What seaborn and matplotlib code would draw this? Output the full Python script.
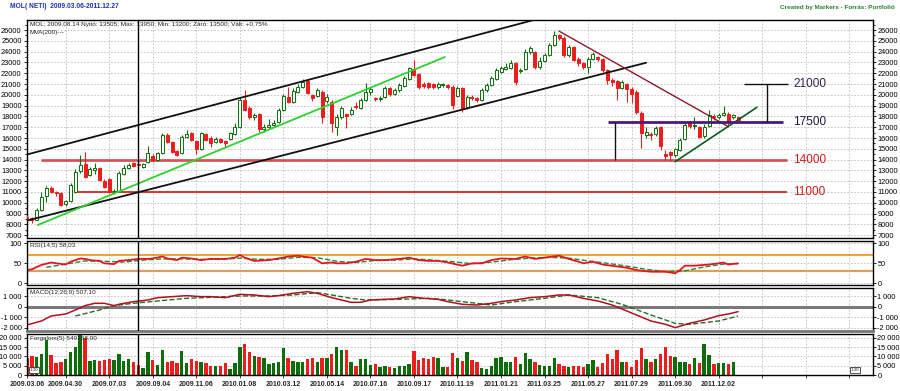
import numpy as np
import pandas as pd
import seaborn as sns
import matplotlib.pyplot as plt
from matplotlib.ticker import MultipleLocator

# weekly candles, 2009.03.06 - 2011.12.27 (week index 0..147)
opens = [8700, 8600, 8450, 9300, 10600, 11400, 11000, 10900, 9900, 10200,
         11000, 12900, 13600, 12600, 13000, 13200, 12000, 12200, 11000, 11100,
         12700, 13200, 13700, 13505, 13300, 13800, 14300, 14000, 14600, 16300,
         15600, 14800, 14600, 16100, 16500, 15700, 15000, 16400, 16000, 15600,
         15900, 15700, 15900, 16400, 17000, 19500, 18800, 17900, 18200, 16800,
         17000, 17200, 17500, 18600, 19800, 19300, 20300, 20700, 21300, 20000,
         19900, 20300, 19400, 19300, 17050, 17900, 18200, 18200, 18950, 18800,
         19500, 20300, 19700, 19600, 19800, 20600, 20100, 20400, 20800, 21500,
         22400, 21900, 21000, 21100, 21000, 20700, 20900, 20900, 20700, 19900,
         20600, 18900, 19800, 19700, 19500, 20400, 20900, 21500, 22100, 22400,
         22500, 22900, 22200, 22400, 24000, 24000, 22600, 23100, 23700, 24600,
         25500, 25300, 23700, 24400, 23300, 22900, 22600, 23300, 23500, 23300,
         22300, 21400, 21300, 20600, 21000, 20500, 20300, 18300, 16300, 16400,
         16400, 17000, 14500, 14700, 14400, 14900, 15900, 17500, 17150, 17000,
         16200, 17100, 18000, 17950, 18100, 18200, 17900, 17900]
highs = [8900, 8700, 9500, 11000, 11600, 11600, 11100, 11000, 10300, 11800,
         13100, 14430, 14730, 13300, 13700, 13300, 12200, 12300, 11300, 12900,
         13500, 13700, 13800, 13950, 13700, 15300, 14500, 14700, 16500, 16500,
         15700, 14900, 16300, 16700, 16600, 15800, 16600, 16500, 16200, 16100,
         16000, 15800, 16600, 17400, 19700, 20440, 19000, 18300, 18300, 17300,
         17800, 17700, 18800, 20100, 20750, 20600, 21000, 21500, 21500, 20100,
         20600, 20400, 20100, 19500, 18200, 19000, 18300, 18900, 19300, 19700,
         21090, 20700, 19800, 19900, 20800, 20700, 20600, 21100, 21700, 22600,
         23220, 22000, 21200, 21200, 21100, 21200, 21100, 21000, 20900, 20800,
         20700, 20000, 20000, 19800, 20600, 21100, 21700, 22500, 22700, 22900,
         23200, 23000, 22500, 24200, 24500, 24100, 23500, 23900, 24800, 25900,
         25600, 25400, 24600, 24500, 23500, 23000, 23500, 24000, 23600, 23400,
         22400, 21600, 21400, 21400, 21100, 20700, 20400, 18500, 17000, 16600,
         17100, 17100, 14900, 14800, 15100, 16000, 17400, 17600, 17900, 17100,
         17300, 18600, 18200, 18300, 19000, 18400, 18200, 17900]
lows = [8300, 8100, 8400, 9200, 10050, 10900, 10600, 9700, 9700, 10100,
        10880, 12800, 12300, 12500, 12700, 12000, 11400, 10900, 10800, 11000,
        12600, 13100, 13300, 13200, 13200, 13700, 13800, 13900, 14500, 15500,
        14600, 14300, 14500, 16000, 15700, 14500, 14900, 15700, 15200, 15500,
        15500, 15200, 15800, 16300, 16900, 18500, 17800, 17700, 16600, 16600,
        16900, 17000, 17400, 18500, 19200, 19200, 20200, 20600, 20100, 19400,
        19800, 17400, 19200, 16600, 16300, 17800, 16900, 18100, 18700, 18700,
        19400, 20000, 19400, 19400, 19700, 19900, 20000, 20300, 20700, 21400,
        21700, 20500, 20600, 20500, 20500, 20500, 20700, 20500, 18700, 19800,
        18400, 18700, 19500, 19300, 19400, 20300, 20800, 21400, 22000, 22300,
        22400, 20900, 22000, 22300, 23800, 22400, 22400, 23000, 23600, 24500,
        25100, 23500, 23500, 23100, 22700, 22400, 22000, 23200, 23100, 22100,
        21000, 20800, 19500, 20500, 19300, 19200, 18200, 15050, 16000, 15800,
        16200, 14900, 13960, 13900, 14200, 14800, 15800, 16900, 16800, 16000,
        16000, 17000, 17700, 17800, 18000, 17200, 17800, 17600]
closes = [8600, 8450, 9330, 10570, 11340, 11030, 10900, 9800, 10150, 11650,
          12880, 13500, 12420, 13100, 13200, 12110, 11490, 11030, 11100, 12730,
          13200, 13500, 13400, 13500, 13550, 14580, 13960, 14580, 16280, 15660,
          14730, 14420, 16120, 16400, 15850, 14950, 16430, 15800, 15500, 15900,
          15600, 15500, 16430, 17050, 19520, 18590, 17975, 18100, 16800, 17000,
          17200, 17400, 18590, 19890, 19300, 20380, 20700, 21220, 20200, 19700,
          20400, 17975, 19800, 17360, 17975, 18750, 18000, 18600, 18900, 19520,
          20290, 20500, 19600, 19700, 20600, 20050, 20450, 20900, 21530, 22450,
          21840, 20750, 20800, 20700, 20700, 21000, 20900, 20700, 19050, 20600,
          18750, 19830, 19700, 19500, 20440, 20900, 21530, 22300, 22450, 22600,
          22900, 21220, 22300, 23990, 24300, 22600, 23100, 23700, 24610, 25540,
          25300, 23690, 24400, 23220, 22900, 22600, 23350, 23800, 23300, 22300,
          21370, 21200, 20600, 21200, 20500, 20100, 18440, 16430, 16600, 16300,
          16900, 15260, 14300, 14430, 14950, 15800, 17200, 17100, 17250, 16120,
          17050, 18130, 17900, 18100, 18300, 17500, 18100, 17700]
volumes = [9000, 10215, 9500, 11100, 18800, 10750, 6660, 7200, 8450, 12400,
           15200, 21400, 19700, 7700, 8070, 7700, 8070, 8450, 8070, 11300,
           7530, 8450, 7200, 5400, 3600, 12550, 8070, 5400, 13440, 7200,
           7700, 6270, 13080, 6270, 8780, 7700, 7200, 6270, 4840, 4840,
           4840, 6660, 3050, 6660, 15200, 16700, 12550, 10215, 9500, 8960,
           5900, 6270, 6800, 14300, 8960, 7530, 7170, 7170, 8600, 9320,
           7170, 9320, 9320, 11290, 14870, 13440, 13440, 7170, 4840, 8420,
           8420, 5380, 5740, 4120, 4840, 4120, 3580, 5000, 5000, 5740,
           12900, 8060, 9320, 8600, 9860, 9320, 4120, 4120, 11650, 9320,
           7530, 12190, 8060, 7170, 3580, 3230, 5000, 8960, 9500, 6810,
           7170, 9500, 5740, 11650, 8420, 7170, 5380, 5000, 4840, 8960,
           5900, 5000, 4480, 5000, 4840, 4120, 5740, 8060, 4120, 6270,
           11110, 8420, 13440, 6810, 6810, 4480, 8240, 14690, 8420, 6810,
           8420, 11110, 14870, 10220, 9860, 7170, 7170, 5740, 9320, 6630,
           16480, 10750, 6090, 6270, 6450, 5740, 6810, 0]

# RSI(14;5) and its signal
rsi_weeks = [0, 1, 3, 5, 6, 8, 9, 11, 12, 13, 15, 16, 18, 19, 21, 23, 25, 26, 28, 29,
             31, 32, 34, 36, 38, 41, 43, 44, 45, 47, 50, 52, 54, 56, 57, 59, 61, 63, 64, 66,
             68, 70, 72, 74, 77, 79, 81, 83, 85, 87, 90, 92, 94, 96, 98, 101, 103, 105, 107, 110,
             112, 114, 115, 117, 119, 122, 124, 126, 129, 132, 134, 135, 136, 138, 141, 143, 144, 145, 147]
rsi_vals = [33, 35, 46, 52, 50, 47, 54, 62, 61, 58, 56, 50, 48, 56, 58, 61, 61, 62, 67, 62,
            58, 64, 62, 58, 61, 61, 64, 71, 64, 56, 58, 62, 67, 69, 67, 64, 50, 52, 50, 50,
            54, 61, 58, 58, 61, 64, 58, 56, 56, 52, 44, 50, 50, 58, 62, 61, 67, 61, 64, 69,
            61, 54, 50, 54, 47, 42, 39, 33, 29, 29, 25, 33, 44, 44, 47, 50, 52, 47, 50]
rsi_sig_weeks = [4, 8, 12, 16, 20, 24, 28, 32, 36, 40, 44, 48, 52, 56, 60, 64, 68, 72, 76, 80,
                 84, 88, 92, 96, 100, 104, 108, 112, 116, 120, 124, 128, 132, 136, 140, 144, 147]
rsi_sig_vals = [40, 48, 56, 55, 53, 58, 61, 61, 60, 60, 63, 60, 60, 65, 64, 55, 52, 57, 58, 61,
                58, 54, 49, 53, 59, 63, 65, 63, 56, 50, 43, 35, 29, 31, 41, 48, 49]

# MACD(12;26;9) and its signal
macd_weeks = [0, 3, 5, 8, 10, 12, 14, 16, 18, 19, 22, 25, 27, 30, 33, 36, 38, 41, 44, 47,
              50, 52, 55, 58, 60, 63, 65, 67, 69, 71, 74, 76, 79, 82, 85, 87, 90, 93, 96, 98,
              101, 104, 107, 110, 112, 115, 118, 121, 123, 126, 129, 132, 134, 137, 140, 143, 145, 147]
macd_vals = [-1726, -1349, -877, -689, -311, 99, 318, 318, 99, 224, 475, 632, 852, 947, 1041, 947, 947, 852, 1167, 1104,
             947, 1041, 1261, 1418, 1261, 852, 632, 412, 412, 632, 695, 726, 947, 789, 695, 475, 224, 160, 318, 475,
             632, 852, 947, 1104, 1104, 789, 538, 160, -217, -783, -1349, -1663, -1978, -1569, -1255, -846, -689, -469]
macd_sig_weeks = [10, 15, 18, 22, 27, 33, 38, 44, 50, 55, 60, 63, 67, 70, 77, 83, 87, 90, 96, 101,
                  107, 112, 118, 123, 129, 134, 137, 143, 147]
macd_sig_vals = [-877, -311, 99, 318, 538, 789, 884, 1010, 1010, 1104, 1324, 1104, 789, 632, 695, 789, 632, 475, 160, 475,
                 789, 1104, 852, 224, -783, -1569, -1663, -1349, -877]

# date axis
date_weeks = [0, 8, 17, 26, 35, 44, 53, 62, 71, 80, 89, 98, 107, 116, 125, 134, 143]
date_labels = ['2009.03.06', '2009.04.30', '2009.07.03', '2009.09.04', '2009.11.06', '2010.01.08',
               '2010.03.12', '2010.05.14', '2010.07.16', '2010.09.17', '2010.11.19', '2011.01.21',
               '2011.03.25', '2011.05.27', '2011.07.29', '2011.09.30', '2011.12.02']
grid_weeks = date_weeks + [152, 161, 170]
cursor_week = 23

# drawn trend lines (week, price)
upper_channel = ([0, 110], [14470, 27550])
lower_channel = ([0, 128], [8350, 22970])
green_trend = ([2.2, 86.4], [7940, 23500])
down_trend = ([110, 145], [25900, 17050])
rise_trend = ([134, 150.9], [13810, 18840])
levels = [11000, 14000, 17500, 21000]

RED = '#ee1c1c'
GREEN = '#0b6e0b'

sns.set_style('white')
plt.rcParams['font.family'] = ['Liberation Sans', 'DejaVu Sans']

fig = plt.figure(figsize=(9, 3.91), dpi=100)
L, W = 26.5 / 900, 846 / 900
ax = fig.add_axes([L, 0.3913, W, 0.5575])
ax_rsi = fig.add_axes([L, 0.2711, W, 0.1125])
ax_macd = fig.add_axes([L, 0.1535, W, 0.1092])
ax_vol = fig.add_axes([L, 0.0409, W, 0.1041])
axes = [ax, ax_rsi, ax_macd, ax_vol]

o = np.array(opens); h = np.array(highs); lo = np.array(lows); c = np.array(closes)
weeks = np.arange(len(c))
up = c >= o
edge = np.where(up, GREEN, RED)
face = np.where(up, 'white', RED)

# candles
ax.vlines(weeks, lo, h, colors=edge, lw=0.8, zorder=3)
ax.bar(weeks, np.maximum(np.abs(c - o), 60), bottom=np.minimum(o, c), width=0.62,
       color=face, edgecolor=edge, linewidth=0.7, zorder=4)

# trend lines and levels
ax.plot(*upper_channel, color='#111111', lw=1.3, zorder=5)
ax.plot(*lower_channel, color='#111111', lw=1.3, zorder=5)
ax.plot(*green_trend, color='#2fd12f', lw=1.3, zorder=5)
ax.plot(*down_trend, color='#8b1a2a', lw=1.0, zorder=5)
ax.plot(*rise_trend, color='#0d5a1d', lw=1.2, zorder=5)
ax.hlines(levels[0], 9.8, 157.1, color='#d02828', lw=1.3, zorder=2)
ax.hlines(levels[1], 2.8, 157.1, color='#d03a3a', lw=2.0, alpha=0.85, zorder=2)
ax.hlines(levels[2], 120.2, 156.4, color='#4a1a7a', lw=2.0, zorder=5)
ax.vlines(121.6, levels[1], levels[2], color='#111111', lw=1.0, zorder=5)
ax.vlines(152.9, levels[2], levels[3], color='#111111', lw=1.0, zorder=5)
ax.hlines(levels[3], 148.3, 157.3, color='#111111', lw=1.0, zorder=5)
label_colors = ['#cc1a1a', '#cc1a1a', '#1a1a40', '#3a1f50']
for lv, col in zip(levels, label_colors):
    ax.text(158.4, lv, str(lv), color=col, fontsize=8.5, va='center', ha='left')

ax.text(0.004, 0.99, 'MOL; 2009.08.14 Nyitó: 13505; Max: 13950; Min: 13200; Záró: 13500; Vált: +0,75%',
        transform=ax.transAxes, va='top', fontsize=4.6, color='#222222')
ax.text(0.004, 0.955, 'MVA(200)---', transform=ax.transAxes, va='top', fontsize=4.6, color='#222222')

# RSI
ax_rsi.axhline(70, color='#e88a00', lw=1.1)
ax_rsi.axhline(30, color='#d8a060', lw=1.6)
sns.lineplot(x=rsi_sig_weeks, y=rsi_sig_vals, ax=ax_rsi, color='#1f8a3a', lw=1.0, linestyle='--')
sns.lineplot(x=rsi_weeks, y=rsi_vals, ax=ax_rsi, color='#e8141c', lw=1.3)
ax_rsi.text(0.004, 0.96, 'RSI(14;5) 58,03', transform=ax_rsi.transAxes, va='top', fontsize=4.6)

# MACD
ax_macd.axhline(0, color='#7a7a7a', lw=2.2)
sns.lineplot(x=macd_sig_weeks, y=macd_sig_vals, ax=ax_macd, color='#2a6a2a', lw=1.0, linestyle='--')
sns.lineplot(x=macd_weeks, y=macd_vals, ax=ax_macd, color='#b01020', lw=1.1)
ax_macd.text(0.004, 0.96, 'MACD(12;26;9) 507,10', transform=ax_macd.transAxes, va='top', fontsize=4.6)

# volume
vol_df = pd.DataFrame({'week': weeks, 'volume': volumes, 'dir': np.where(up, 'up', 'down')})
sns.barplot(data=vol_df, x='week', y='volume', hue='dir', palette={'up': GREEN, 'down': RED},
            native_scale=True, dodge=False, width=0.7, errorbar=None, legend=False,
            saturation=1, linewidth=0, ax=ax_vol)
ax_vol.text(0.004, 0.97, 'Forgalom(5) 549168,00', transform=ax_vol.transAxes, va='top', fontsize=4.6)
ax_vol.text(0.004, 0.1, '1:30', transform=ax_vol.transAxes, fontsize=3.2,
            bbox=dict(boxstyle='square,pad=0.15', fc='white', ec='#333333', lw=0.6))
ax_vol.text(0.984, 0.1, '1:30', transform=ax_vol.transAxes, fontsize=3.2, ha='right',
            bbox=dict(boxstyle='square,pad=0.15', fc='white', ec='#333333', lw=0.6))

# axes styling
ax.set_ylim(6740, 26926)
ax.set_yticks(range(7000, 26001, 1000))
ax.yaxis.set_minor_locator(MultipleLocator(500))
ax_rsi.set_ylim(-4.25, 105.75)
ax_rsi.set_yticks([0, 50, 100])
ax_macd.set_ylim(-2292, 1736)
ax_macd.set_yticks([-2000, -1000, 0, 1000])
ax_macd.set_yticklabels(['-2 000', '-1 000', '0', '1 000'])
ax_vol.set_ylim(0, 21880)
ax_vol.set_yticks([0, 5000, 10000, 15000, 20000])
ax_vol.set_yticklabels(['0', '5 000', '10 000', '15 000', '20 000'])

for a in axes:
    a.set_xlim(-0.1, 174.8)
    a.set_xticks(grid_weeks)
    a.set_xlabel('')
    a.set_ylabel('')
    a.set_axisbelow(True)
    a.grid(True, color='#bdbdbd', ls=(0, (2, 2)), lw=0.6)
    a.tick_params(axis='y', which='both', left=True, right=True, labelleft=True, labelright=True,
                  direction='out', length=2.5, width=0.6, labelsize=5.3, pad=1, colors='black')
    a.tick_params(axis='y', which='minor', length=1.5, labelleft=False, labelright=False)
    a.tick_params(axis='x', bottom=False, labelbottom=False)
    for s in a.spines.values():
        s.set_visible(True)
        s.set_color('black')
        s.set_linewidth(1.0)
    a.axvline(cursor_week, color='black', lw=1.0, zorder=6)

ax_macd.spines['bottom'].set_color('#777777')
ax_macd.spines['bottom'].set_linewidth(2.0)

ax_vol.set_xticklabels(date_labels + [''] * (len(grid_weeks) - len(date_labels)))
ax_vol.tick_params(axis='x', bottom=True, labelbottom=True, length=2, width=0.6, labelsize=5.0, pad=2)
for t in ax_vol.get_xticklabels():
    t.set_fontweight('bold')

fig.text(10 / 900, 1 - 7 / 391, 'MOL( NETI)  2009.03.06-2011.12.27', color='#1f2fb4',
         fontsize=4.8, fontweight='bold', va='center')
fig.text(895 / 900, 1 - 8 / 391, 'Created by Markers - Forrás: Portfolió', color='#2a7f2a',
         fontsize=4.6, fontweight='bold', va='center', ha='right')

fig.savefig('out.png', dpi=100)
